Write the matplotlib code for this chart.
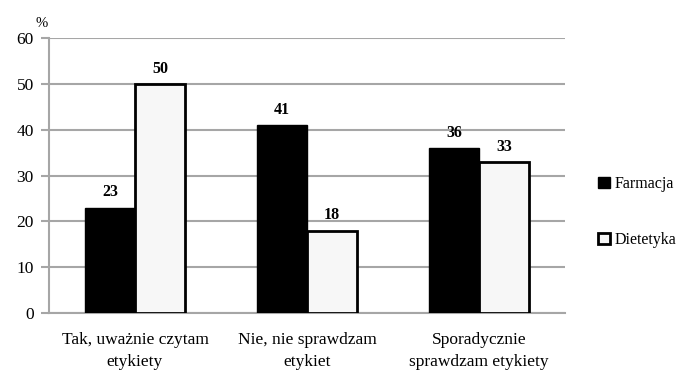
import matplotlib
matplotlib.use("Agg")
import matplotlib.pyplot as plt
import numpy as np
from matplotlib.patches import Patch

categories = ["Tak, uważnie czytam\netykiety", "Nie, nie sprawdzam\netykiet", "Sporadycznie\nsprawdzam etykiety"]
series_names = ["Farmacja", "Dietetyka"]
farmacja = [23, 41, 36]
dietetyka = [50, 18, 33]
yticks = [0, 10, 20, 30, 40, 50, 60]

plt.rcParams["font.family"] = ["Liberation Serif", "DejaVu Serif"]

fig = plt.figure(figsize=(6.87, 3.74), dpi=100)
ax = fig.add_axes([0.0713, 0.163, 0.751, 0.735])

x = np.arange(len(categories))
w = 0.29
b1 = ax.bar(x - w / 2, farmacja, w, color="black", edgecolor="black", linewidth=1.0, zorder=3)
b2 = ax.bar(x + w / 2, dietetyka, w, color="#f7f7f7", edgecolor="black", linewidth=2.0, zorder=3)

for bars, vals in ((b1, farmacja), (b2, dietetyka)):
    for r, v in zip(bars, vals):
        ax.text(r.get_x() + r.get_width() / 2, v + 1.6, str(v), ha="center", va="bottom",
                fontsize=11.5, fontweight="bold")

ax.set_xlim(-0.5, 2.5)
ax.set_ylim(0, 60)
ax.set_yticks(yticks)
ax.set_yticklabels([str(t) for t in yticks], fontsize=12.5)
ax.yaxis.grid(True, color="#a6a6a6", linewidth=1.5, zorder=0)
ax.set_axisbelow(True)
ax.tick_params(axis="y", length=6, width=1.5, color="#a6a6a6", pad=5)
ax.tick_params(axis="x", length=0, pad=14)
ax.set_xticks(x)
ax.set_xticklabels(categories, fontsize=12.5, linespacing=1.45)
for s in ("top", "right"):
    ax.spines[s].set_visible(False)
for s in ("left", "bottom"):
    ax.spines[s].set_color("#a6a6a6")
    ax.spines[s].set_linewidth(1.5)

ax.text(-0.015, 1.03, "%", transform=ax.transAxes, fontsize=10.5, ha="center", va="bottom")

handles = [Patch(facecolor="black", edgecolor="black"),
           Patch(facecolor="#f7f7f7", edgecolor="black", linewidth=2.0)]
fig.legend(handles, series_names, loc="center left", bbox_to_anchor=(0.85, 0.432),
           frameon=False, fontsize=11.5, handlelength=0.7, handleheight=0.7,
           handletextpad=0.3, labelspacing=2.5)

fig.savefig("out.png", dpi=100)
